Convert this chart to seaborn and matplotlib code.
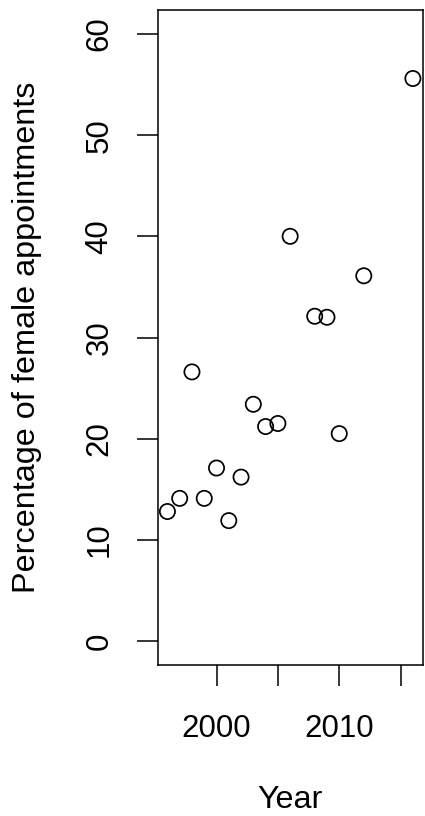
import matplotlib
matplotlib.use("Agg")
import matplotlib.pyplot as plt
import seaborn as sns
import pandas as pd

# Share of female appointments per year
years = [1996, 1997, 1998, 1999, 2000, 2001, 2002, 2003, 2004, 2005,
         2006, 2008, 2009, 2010, 2012, 2016]
pct_female = [12.8, 14.1, 26.6, 14.1, 17.1, 11.9, 16.2, 23.4, 21.2, 21.5,
              40.0, 32.1, 32.0, 20.5, 36.1, 55.6]

x_ticks = [2000, 2005, 2010, 2015]
x_tick_labels = ["2000", "", "2010", ""]
y_ticks = [0, 10, 20, 30, 40, 50, 60]
y_tick_labels = ["0", "10", "20", "30", "40", "50", "60"]

df = pd.DataFrame({"Year": years, "Pct": pct_female})

sns.set_theme(style="white")
plt.rcParams["font.family"] = ["Liberation Sans", "DejaVu Sans"]

W, H = 425, 816
fig = plt.figure(figsize=(W / 100, H / 100), dpi=100)
left, right, top, bottom = 157.6, 422.7, 9.7, 665.3
ax = fig.add_axes([left / W, 1 - bottom / H, (right - left) / W, (bottom - top) / H])

sns.scatterplot(data=df, x="Year", y="Pct", ax=ax, marker="o", s=120,
                facecolor="none", edgecolor="black", linewidth=1.25, legend=False)

ax.set_xlim(1995.2, 2016.8)
ax.set_ylim(-2.4, 62.4)

ax.set_xticks(x_ticks)
ax.set_xticklabels(x_tick_labels)
ax.set_yticks(y_ticks)
ax.set_yticklabels(y_tick_labels, rotation=90, va="center")

for s in ax.spines.values():
    s.set_visible(True)
    s.set_color("black")
    s.set_linewidth(1.1)

ax.tick_params(axis="both", which="major", direction="out", length=15, width=1.1,
               color="black", labelsize=22.5, labelcolor="black",
               bottom=True, left=True)
ax.tick_params(axis="x", pad=20)
ax.tick_params(axis="y", pad=16)

ax.set_xlabel("Year", fontsize=23.3, color="black")
ax.set_ylabel("Percentage of female appointments", fontsize=23.3, color="black")
ax.xaxis.label.set_va("center")
ax.yaxis.label.set_va("center")
ax.xaxis.set_label_coords(0.5, -(800 - bottom) / (bottom - top))
ax.yaxis.set_label_coords((27 - left) / (right - left), 0.5)

fig.savefig("out.png", dpi=100, facecolor="white")
